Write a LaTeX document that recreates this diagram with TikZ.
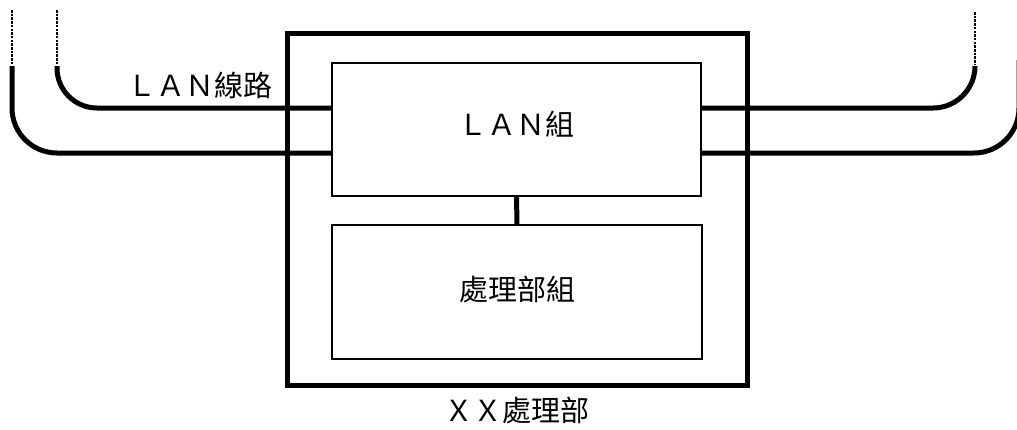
\documentclass[tikz,border=0pt]{standalone}
\usepackage{fontspec}
\newfontfamily\cjkfont{Noto Sans CJK TC}
\usetikzlibrary{positioning}
\tikzset{
unitbox/.style={
  draw,
  line width=1.5pt,
  minimum width=369pt,
  minimum height=133pt,
  inner sep=0pt,
  font=\cjkfont\fontsize{29}{29}\selectfont
  },
blockbox/.style={
  draw,
  line width=5pt,
  minimum width=460pt,
  minimum height=352pt
  },
lanline/.style={
  line width=5pt,
  rounded corners=#1
  },
lanend/.style={
  line width=1.8pt,
  dash pattern=on 2.5pt off 1.2pt
  },
lbl/.style={
  inner sep=0pt,
  font=\cjkfont\fontsize{29}{29}\selectfont
  }
}

\begin{document}
\begin{tikzpicture}[x=1pt,y=-1pt]
\clip (0,0) rectangle (1017,429);

\node[blockbox] at (517,209)
  (xxunit) {};
\node[unitbox,text depth=12pt] at (516.5,129.5)
  (lanunit) {ＬＡＮ組};
\node[unitbox,minimum width=370pt,minimum height=134pt,text depth=8pt] at (517,292)
  (procunit) {處理部組};
\node[lbl,below=9pt of xxunit]
  (xxlbl) {ＸＸ處理部};
\node[lbl] at (200,85)
  (lanlbl) {ＬＡＮ線路};

% free ends of the LAN lines
\coordinate (endla) at (57,66);
\coordinate (endlb) at (12,66);
\coordinate (endra) at (975,66);
\coordinate (endrb) at (1019,60);
\coordinate (topla) at (57,10);
\coordinate (toplb) at (12,10);
\coordinate (topra) at (975,12);

\draw[line width=5pt]
  (lanunit.south) -- (procunit.north);

\draw[lanline=40pt]
  (endla) |- ([yshift=21.5pt]lanunit.west);
\draw[lanline=45pt]
  (endlb) |- ([yshift=-23.5pt]lanunit.west);
\draw[lanline=42pt]
  (endra) |- ([yshift=21.5pt]lanunit.east);
\draw[lanline=45pt]
  (endrb) |- ([yshift=-23.5pt]lanunit.east);

\begin{scope}[lanend]
\draw (topla) -- ([yshift=2pt]endla);
\draw (toplb) -- ([yshift=2pt]endlb);
\draw (topra) -- ([yshift=2pt]endra);
\end{scope}
\end{tikzpicture}
\end{document}
